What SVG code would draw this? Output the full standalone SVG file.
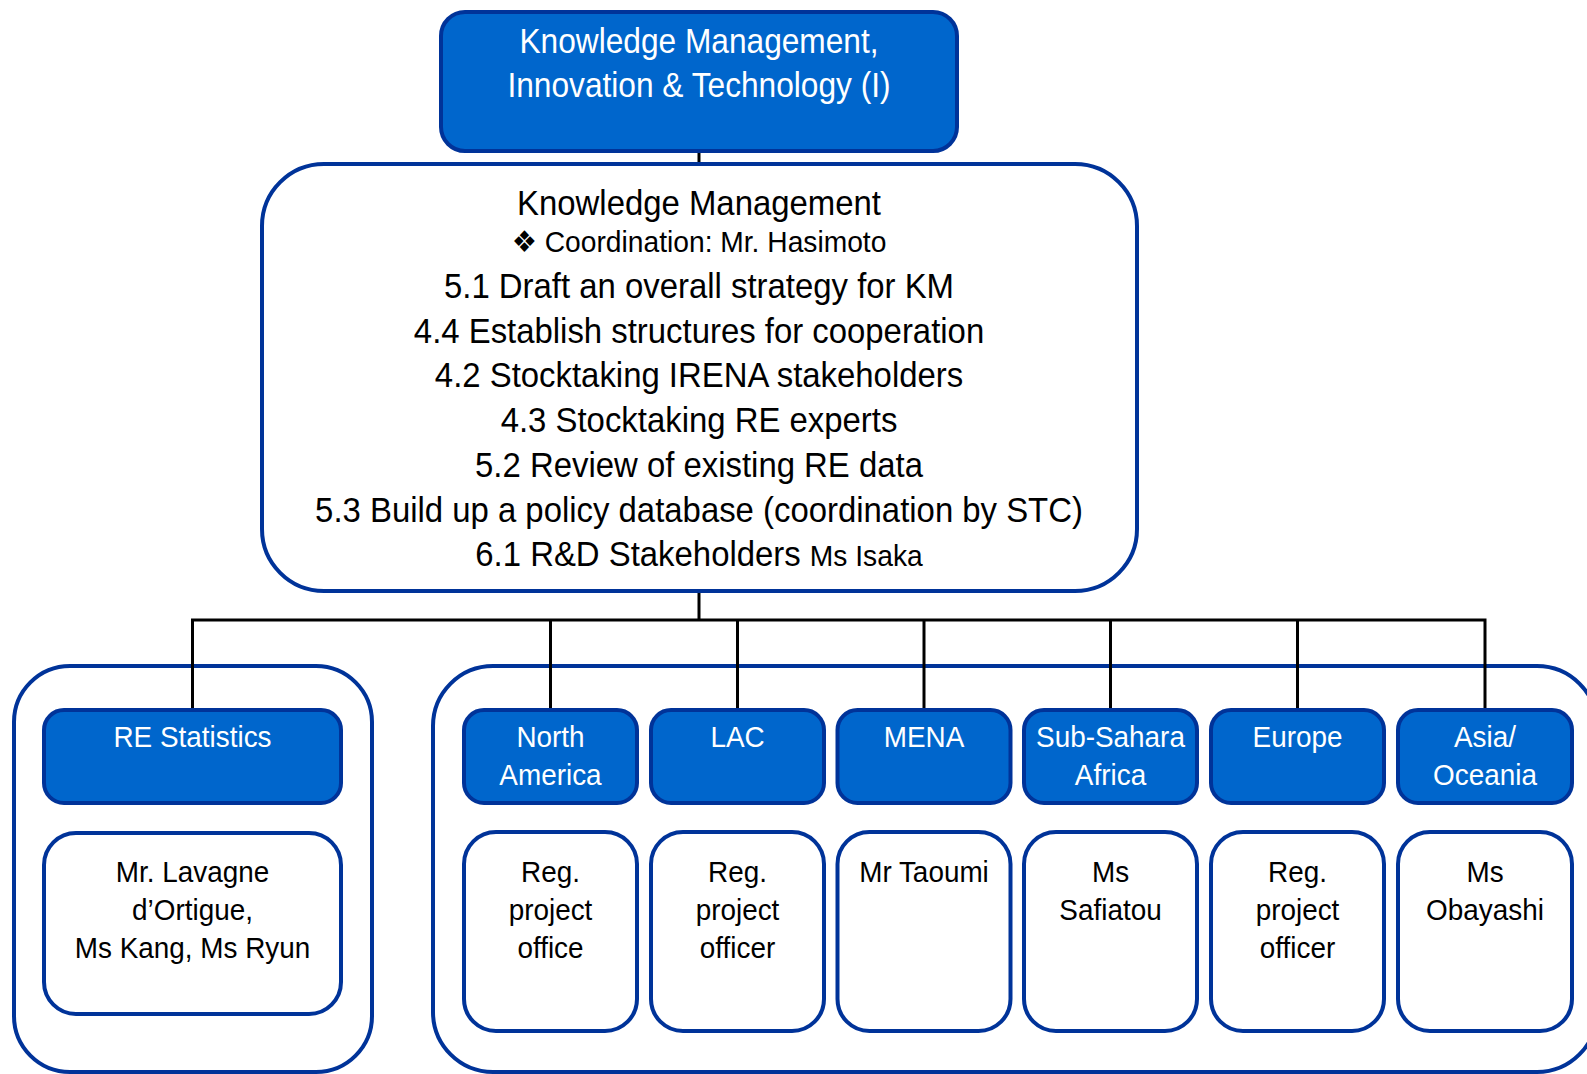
<svg xmlns="http://www.w3.org/2000/svg" width="1587" height="1074" viewBox="0 0 1587 1074">
<style>
text{font-family:"Liberation Sans",Arial,"DejaVu Sans",sans-serif;text-anchor:middle}
.hdr{fill:#0066CC;stroke:#003399;stroke-width:4}
.box{fill:#FFFFFF;stroke:#003399;stroke-width:4}
.grp{fill:#FFFFFF;stroke:#003399;stroke-width:4}
.w{fill:#FFFFFF;font-size:30px}
.b{fill:#000000;font-size:30px}
.big{fill:#000000;font-size:35px}
.conn{stroke:#000000;stroke-width:3;fill:none}
</style>
<rect width="1587" height="1074" fill="#FFFFFF"/>

<g id="group-statistics">
<rect class="grp" x="14" y="666" width="358" height="406" rx="56"/>
</g>
<g id="group-regions">
<rect class="grp" x="433" y="666" width="1164" height="406" rx="60"/>
</g>

<g id="connectors">
<line class="conn" x1="699" y1="150" x2="699" y2="165"/>
<line class="conn" x1="699" y1="590" x2="699" y2="620"/>
<polyline class="conn" points="192.5,710 192.5,620 1485,620 1485,710"/>
<line class="conn" x1="550.5" y1="620" x2="550.5" y2="710"/>
<line class="conn" x1="737.5" y1="620" x2="737.5" y2="710"/>
<line class="conn" x1="924" y1="620" x2="924" y2="710"/>
<line class="conn" x1="1110.5" y1="620" x2="1110.5" y2="710"/>
<line class="conn" x1="1297.5" y1="620" x2="1297.5" y2="710"/>
</g>

<g id="node-top">
<rect class="hdr" x="441" y="12" width="516" height="139" rx="24"/>
<g transform="translate(699 0) scale(0.88 1)">
<text x="0" y="53" fill="#FFFFFF" font-size="36">Knowledge Management,</text>
<text x="0" y="97" fill="#FFFFFF" font-size="36">Innovation &amp; Technology (I)</text>
</g>
</g>

<g id="node-km">
<rect class="box" x="262" y="164" width="875" height="427" rx="62"/>
<g transform="translate(699 0) scale(0.94 1)">
<text class="big" x="0" y="215">Knowledge Management</text>
<text class="b" x="0" y="252">❖ Coordination: Mr. Hasimoto</text>
<text class="big" x="0" y="298">5.1 Draft an overall strategy for KM</text>
<text class="big" x="0" y="343">4.4 Establish structures for cooperation</text>
<text class="big" x="0" y="387">4.2 Stocktaking IRENA stakeholders</text>
<text class="big" x="0" y="432">4.3 Stocktaking RE experts</text>
<text class="big" x="0" y="477">5.2 Review of existing RE data</text>
<text class="big" x="0" y="522">5.3 Build up a policy database (coordination by STC)</text>
<text class="big" x="0" y="566">6.1 R&amp;D Stakeholders <tspan font-size="30">Ms Isaka</tspan></text>
</g>
</g>

<g id="node-re-statistics">
<rect class="hdr" x="44" y="710" width="297" height="93" rx="20"/>
<g transform="translate(192.5 0) scale(0.93 1)">
<text class="w" x="0" y="747">RE Statistics</text>
</g>
</g>
<g id="node-re-statistics-staff">
<rect class="box" x="44" y="833" width="297" height="181" rx="32"/>
<g transform="translate(192.5 0) scale(0.93 1)">
<text class="b" x="0" y="882">Mr. Lavagne</text>
<text class="b" x="0" y="920">d’Ortigue,</text>
<text class="b" x="0" y="958">Ms Kang, Ms Ryun</text>
</g>
</g>

<g id="node-north-america">
<rect class="hdr" x="464" y="710" width="173" height="93" rx="20"/>
<g transform="translate(550.5 0) scale(0.93 1)">
<text class="w" x="0" y="747">North</text>
<text class="w" x="0" y="785">America</text>
</g>
</g>
<g id="node-north-america-staff">
<rect class="box" x="464" y="832" width="173" height="199" rx="32"/>
<g transform="translate(550.5 0) scale(0.93 1)">
<text class="b" x="0" y="882">Reg.</text>
<text class="b" x="0" y="920">project</text>
<text class="b" x="0" y="958">office</text>
</g>
</g>

<g id="node-lac">
<rect class="hdr" x="651" y="710" width="173" height="93" rx="20"/>
<g transform="translate(737.5 0) scale(0.93 1)">
<text class="w" x="0" y="747">LAC</text>
</g>
</g>
<g id="node-lac-staff">
<rect class="box" x="651" y="832" width="173" height="199" rx="32"/>
<g transform="translate(737.5 0) scale(0.93 1)">
<text class="b" x="0" y="882">Reg.</text>
<text class="b" x="0" y="920">project</text>
<text class="b" x="0" y="958">officer</text>
</g>
</g>

<g id="node-mena">
<rect class="hdr" x="837.5" y="710" width="173" height="93" rx="20"/>
<g transform="translate(924 0) scale(0.93 1)">
<text class="w" x="0" y="747">MENA</text>
</g>
</g>
<g id="node-mena-staff">
<rect class="box" x="837.5" y="832" width="173" height="199" rx="32"/>
<g transform="translate(924 0) scale(0.93 1)">
<text class="b" x="0" y="882">Mr Taoumi</text>
</g>
</g>

<g id="node-sub-sahara">
<rect class="hdr" x="1024" y="710" width="173" height="93" rx="20"/>
<g transform="translate(1110.5 0) scale(0.93 1)">
<text class="w" x="0" y="747">Sub-Sahara</text>
<text class="w" x="0" y="785">Africa</text>
</g>
</g>
<g id="node-sub-sahara-staff">
<rect class="box" x="1024" y="832" width="173" height="199" rx="32"/>
<g transform="translate(1110.5 0) scale(0.93 1)">
<text class="b" x="0" y="882">Ms</text>
<text class="b" x="0" y="920">Safiatou</text>
</g>
</g>

<g id="node-europe">
<rect class="hdr" x="1211" y="710" width="173" height="93" rx="20"/>
<g transform="translate(1297.5 0) scale(0.93 1)">
<text class="w" x="0" y="747">Europe</text>
</g>
</g>
<g id="node-europe-staff">
<rect class="box" x="1211" y="832" width="173" height="199" rx="32"/>
<g transform="translate(1297.5 0) scale(0.93 1)">
<text class="b" x="0" y="882">Reg.</text>
<text class="b" x="0" y="920">project</text>
<text class="b" x="0" y="958">officer</text>
</g>
</g>

<g id="node-asia-oceania">
<rect class="hdr" x="1398" y="710" width="174" height="93" rx="20"/>
<g transform="translate(1485 0) scale(0.93 1)">
<text class="w" x="0" y="747">Asia/</text>
<text class="w" x="0" y="785">Oceania</text>
</g>
</g>
<g id="node-asia-oceania-staff">
<rect class="box" x="1398" y="832" width="174" height="199" rx="32"/>
<g transform="translate(1485 0) scale(0.93 1)">
<text class="b" x="0" y="882">Ms</text>
<text class="b" x="0" y="920">Obayashi</text>
</g>
</g>
</svg>
